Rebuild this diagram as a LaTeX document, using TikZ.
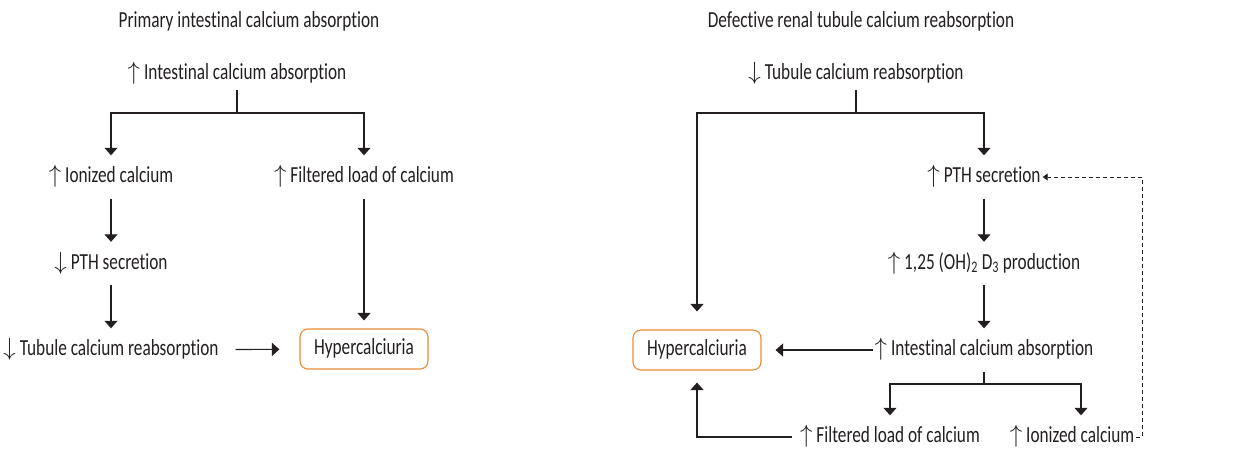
\documentclass[tikz,border=0pt]{standalone}
\usepackage{fontspec}
\setmainfont{Carlito}[FakeStretch=0.75,Ligatures=NoCommon]
\usetikzlibrary{arrows.meta,positioning}
\definecolor{ink}{HTML}{231F20}
\definecolor{hypcol}{HTML}{E98A35}
\begin{document}
\begin{tikzpicture}
  [x=1pt,y=-1pt,node distance=86.5pt,
   txt/.style={text=ink,font=\fontsize{23}{27}\selectfont,inner xsep=2pt,inner ysep=11pt,
     text height=16pt,text depth=5pt},
   hyp/.style={txt,draw=hypcol,line width=1.1pt,rounded corners=8pt,
     minimum width=128pt,minimum height=40pt,inner ysep=0pt},
   link/.style={draw=ink,line width=1.1pt},
   arr/.style={link,-{Triangle[width=13pt,length=7.5pt]}},
   feedback/.style={draw=ink,line width=0.9pt,dash pattern=on 4pt off 3pt,
     -{Triangle[width=7pt,length=5pt]}}]
  \useasboundingbox (0,0) rectangle (1242,450);
  % primary intestinal calcium absorption
  \node[txt] (ltitle) at (249,22) {Primary intestinal calcium absorption};
  \node[txt,inner ysep=5.5pt] (lint) at (237,74) {$\uparrow$ Intestinal calcium absorption};
  \node[txt] (lion) at (111,177) {$\uparrow$ Ionized calcium};
  \node[txt,below of=lion] (lpth) {$\downarrow$ PTH secretion};
  \node[txt,below of=lpth] (ltub) {$\downarrow$ Tubule calcium reabsorption};
  \node[txt] (lfil) at (364,177) {$\uparrow$ Filtered load of calcium};
  \node[hyp] (lhyp) at (364,349) {Hypercalciuria};
  \coordinate (lfork) at (237,113);
  \draw[link] (lint) -- (lfork);
  \draw[arr] (lfork) -| (lion);
  \draw[arr] (lfork) -| (lfil);
  \draw[arr] (lion) -- (lpth);
  \draw[arr] (lpth) -- (ltub);
  \draw[arr,shorten >=8pt] (lfil) -- (lhyp);
  \draw[arr,shorten <=15pt,shorten >=20pt] (ltub) -- (lhyp);
  % defective renal tubule calcium reabsorption
  \node[txt] (rtitle) at (861,22) {Defective renal tubule calcium reabsorption};
  \node[txt,inner ysep=5.5pt] (rtub) at (856,74) {$\downarrow$ Tubule calcium reabsorption};
  \node[txt] (rpth) at (984,177) {$\uparrow$ PTH secretion};
  \node[txt,below of=rpth] (rvit) {$\uparrow$ 1,25 (OH)\textsubscript{2} D\textsubscript{3} production};
  \node[txt,below of=rvit] (rint) {$\uparrow$ Intestinal calcium absorption};
  \node[hyp] (rhyp) at (697,350) {Hypercalciuria};
  \node[txt] (rfil) at (890,437) {$\uparrow$ Filtered load of calcium};
  \node[txt] (rion) at (1072,437) {$\uparrow$ Ionized calcium};
  \coordinate (rfork) at (856,113);
  \coordinate (bfork) at (984,384);
  \coordinate (dcorner) at (1142,437);
  \draw[link] (rtub) -- (rfork);
  \draw[arr] (rfork) -| (rpth);
  \draw[arr,shorten >=18pt] (rfork) -| (rhyp);
  \draw[arr] (rpth) -- (rvit);
  \draw[arr] (rvit) -- (rint);
  \draw[arr,shorten >=14pt] (rint) -- (rhyp);
  \draw[link] (rint) -- (bfork);
  \draw[arr] (bfork) -| (rfil);
  \draw[arr] (bfork) -| ([xshift=9pt]rion.north);
  \draw[arr,shorten <=6pt,shorten >=12pt] (rfil) -| (rhyp);
  \draw[feedback] (rion) -- (dcorner) |- (rpth);
\end{tikzpicture}
\end{document}
